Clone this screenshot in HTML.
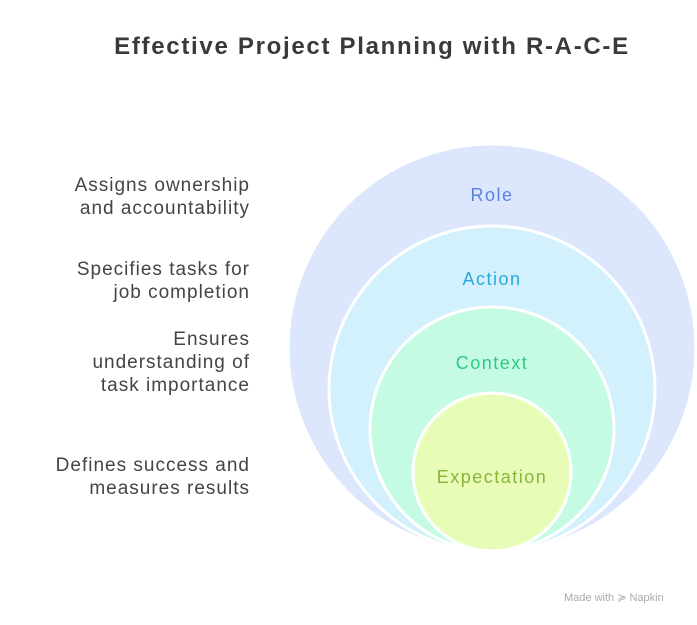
<!DOCTYPE html>
<html><head><style>
body{margin:0;background:#fff;}
svg{display:block;}
</style></head><body>
<svg width="697" height="625" viewBox="0 0 697 625" xmlns="http://www.w3.org/2000/svg">
<rect width="697" height="625" fill="#fff"/>
<text x="372" y="54" text-anchor="middle" font-family="Liberation Sans, sans-serif" font-weight="bold" font-size="24" letter-spacing="1.7" fill="#3a3a3a">Effective Project Planning with R-A-C-E</text>
<circle cx="492" cy="348" r="204" fill="#dce6fd" stroke="#fff" stroke-width="3"/>
<circle cx="492" cy="389" r="163" fill="#d3f1fd" stroke="#fff" stroke-width="3"/>
<circle cx="492" cy="429" r="122" fill="#c6fbe3" stroke="#fff" stroke-width="3"/>
<circle cx="492" cy="472" r="79" fill="#e8fcb8" stroke="#fff" stroke-width="3"/>
<g font-family="Liberation Sans, sans-serif" font-size="18" letter-spacing="1.5" text-anchor="middle">
<text x="492" y="201" fill="#5b82e0">Role</text>
<text x="492" y="285" fill="#27a9dc">Action</text>
<text x="492" y="369" fill="#2dc98a">Context</text>
<text x="492" y="483" fill="#86b53a">Expectation</text>
</g>
<g font-family="Liberation Sans, sans-serif" font-size="19" letter-spacing="1" text-anchor="end" fill="#444">
<text x="250" y="191">Assigns ownership</text>
<text x="250" y="214">and accountability</text>
<text x="250" y="275">Specifies tasks for</text>
<text x="250" y="298">job completion</text>
<text x="250" y="345">Ensures</text>
<text x="250" y="368">understanding of</text>
<text x="250" y="391">task importance</text>
<text x="250" y="471">Defines success and</text>
<text x="250" y="494">measures results</text>
</g>
<text x="564" y="601" font-family="Liberation Sans, sans-serif" font-size="11" fill="#aaa">Made with ≽ Napkin</text>
</svg>
</body></html>
